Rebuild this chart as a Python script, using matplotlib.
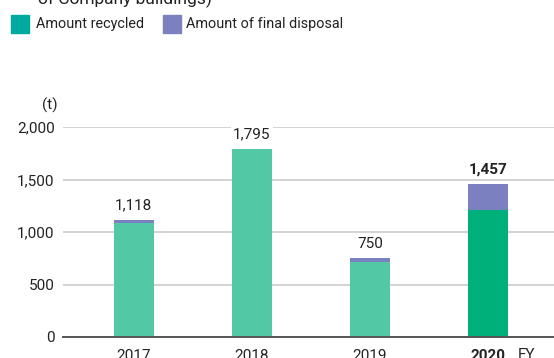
import matplotlib
matplotlib.use("Agg")
import matplotlib.pyplot as plt
from matplotlib.patches import Rectangle

plt.rcParams["font.family"] = ["Roboto", "DejaVu Sans"]

years = ["2017", "2018", "2019", "2020"]
recycled = [1088, 1790, 712, 1210]
final_disposal = [30, 5, 38, 247]
totals = [1118, 1795, 750, 1457]
y_ticks = [0, 500, 1000, 1500, 2000]
y_tick_labels = ["0", "500", "1,000", "1,500", "2,000"]

W, H = 554, 358
fig = plt.figure(figsize=(W / 100, H / 100), dpi=100)

# axes frame in pixel terms
left_px, right_px, bottom_px, top_px = 63, 554, 337, 127
ax = fig.add_axes([left_px / W, 1 - bottom_px / H,
                   (right_px - left_px) / W, (bottom_px - top_px) / H])

recycled_colors = ["#52c9a4", "#52c9a4", "#52c9a4", "#00b07a"]
disposal_color = "#7a80c0"
x = list(range(len(years)))
ax.bar(x, recycled, width=0.34, color=recycled_colors, zorder=3)
ax.bar(x, final_disposal, width=0.34, bottom=recycled, color=disposal_color, zorder=3)

for i, t in enumerate(totals):
    bold = (i == len(totals) - 1)
    ax.text(i, t + 70, f"{t:,}", ha="center", va="bottom", fontsize=11,
            fontweight="bold" if bold else "normal", color="#222222",
            clip_on=False, zorder=4,
            bbox=dict(facecolor="white", edgecolor="none", pad=1.5))

ax.set_xlim(-0.6, 3.56)
ax.set_ylim(0, 2000)
ax.set_yticks(y_ticks)
ax.set_yticklabels(y_tick_labels, fontsize=11, color="#222222")
ax.set_xticks(x)
ax.set_xticklabels(years, fontsize=11, color="#222222")
for lbl in ax.get_xticklabels():
    if lbl.get_text() == "2020":
        lbl.set_fontweight("bold")
ax.tick_params(axis="both", length=0, pad=6)
ax.tick_params(axis="x", pad=9)
ax.grid(axis="y", color="#cccccc", linewidth=1.2, zorder=0)
for s in ["top", "right", "left"]:
    ax.spines[s].set_visible(False)
ax.spines["bottom"].set_color("#555555")
ax.spines["bottom"].set_linewidth(1.4)
ax.spines["bottom"].set_zorder(5)

fig.text(42 / W, 1 - 105 / H, "(t)", fontsize=11, va="center", ha="left", color="#222222")
fig.text(518 / W, 1 - 355 / H, "FY", fontsize=11, va="center", ha="left", color="#222222")

# heading line (upper part falls outside the canvas) and legend
fig.text(38 / W, 1 - 4 / H, "of Company buildings)", fontsize=12.5, va="baseline",
         ha="left", color="#222222")
fig.patches.append(Rectangle((11 / W, 1 - 33 / H), 18 / W, 18 / H,
                             transform=fig.transFigure, color="#00aa9e"))
fig.text(36 / W, 1 - 24 / H, "Amount recycled", fontsize=10.4, va="center", color="#222222")
fig.patches.append(Rectangle((163 / W, 1 - 33 / H), 18 / W, 18 / H,
                             transform=fig.transFigure, color=disposal_color))
fig.text(186 / W, 1 - 24 / H, "Amount of final disposal", fontsize=10.4, va="center", color="#222222")

fig.savefig("out.png", dpi=100)
